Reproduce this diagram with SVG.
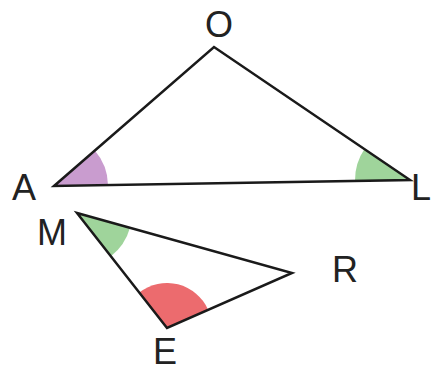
<svg xmlns="http://www.w3.org/2000/svg" width="432" height="372" viewBox="0 0 432 372">
<style>
.lbl{font-family:"Liberation Sans",Arial,sans-serif;font-size:36px;fill:#222;}
.edge{fill:none;stroke:#1a1a1a;stroke-width:2.5;stroke-linejoin:miter;}
</style>
<rect width="432" height="372" fill="#fff"/>
<g id="angles">
<path d="M54,186 L94.8,150.6 A54,54 0 0,1 108,185.1 Z" fill="#c99ccf"/>
<path d="M410,180 L364.5,149.1 A55,55 0 0,0 355,180.9 Z" fill="#9fd49b"/>
<path d="M77,213 L130,227.8 A55,55 0 0,1 110.9,256.3 Z" fill="#9fd49b"/>
<path d="M167,328 L139.3,292.5 A45,45 0 0,1 208.2,309.9 Z" fill="#ec6b6e"/>
</g>
<g id="connectors">
<path class="edge" d="M54,186 L214,47 L410,180 Z"/>
<path class="edge" d="M77,213 L292,273 L167,328 Z"/>
</g>
<g id="node-O"><text class="lbl" x="219" y="37" text-anchor="middle">O</text></g>
<g id="node-A"><text class="lbl" x="24" y="200" text-anchor="middle">A</text></g>
<g id="node-L"><text class="lbl" x="411" y="200">L</text></g>
<g id="node-M"><text class="lbl" x="52" y="245" text-anchor="middle">M</text></g>
<g id="node-R"><text class="lbl" x="345" y="282" text-anchor="middle">R</text></g>
<g id="node-E"><text class="lbl" x="165" y="364" text-anchor="middle">E</text></g>
</svg>
